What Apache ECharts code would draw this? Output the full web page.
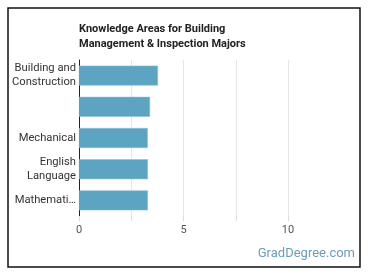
<!DOCTYPE html>
<html><head><meta charset="utf-8">
<script src="https://cdn.jsdelivr.net/npm/echarts@6/dist/echarts.min.js"></script>
<style>html,body{margin:0;padding:0;background:#fff}#c{width:370px;height:278px}</style>
</head><body><div id="c"></div>
<script>
const categories = ['Building and\nConstruction', '', 'Mechanical', 'English\nLanguage', 'Mathemati…'];
const values = [3.78, 3.40, 3.29, 3.30, 3.30];
const xTicks = [0, 5, 10];
const titleText = 'Knowledge Areas for Building\nManagement & Inspection Majors';

const chart = echarts.init(document.getElementById('c'));
chart.setOption({
  animation: false,
  title: {
    text: titleText, left: 79, top: 22, padding: 0,
    textStyle: {fontFamily: 'Roboto', fontSize: 11, fontWeight: 'bold', color: '#222', lineHeight: 15}
  },
  grid: {left: 79, right: 82, top: 60, bottom: 62, outerBoundsMode: 'none', containLabel: false},
  xAxis: {
    type: 'value', min: 0, max: 10, interval: 2.5,
    axisLine: {show: false},
    axisTick: {show: true, length: 5, lineStyle: {color: '#ddd'}},
    splitLine: {show: true, lineStyle: {color: '#e6e6e6'}},
    axisLabel: {
      margin: 9, color: '#555', fontFamily: 'Roboto', fontSize: 11,
      formatter: v => xTicks.includes(v) ? String(v) : ''
    }
  },
  yAxis: {
    type: 'category', data: categories, inverse: true,
    axisLine: {show: true, lineStyle: {color: '#222', width: 1}},
    axisTick: {show: false},
    axisLabel: {margin: 3, color: '#333', fontFamily: 'Roboto', fontSize: 11.2, lineHeight: 14}
  },
  series: [{
    type: 'bar', data: values, barWidth: 20,
    itemStyle: {color: '#5ca4c2', borderColor: '#8cc0d6', borderWidth: 0.6}
  }],
  graphic: [
    {type: 'rect', shape: {x: 8, y: 8, width: 352, height: 259}, style: {fill: 'none', stroke: '#111', lineWidth: 1.5}, silent: true},
    {type: 'text', right: 15, top: 247, style: {text: 'GradDegree.com', fill: '#6b9cb8', font: '13px Roboto'}}
  ]
});
</script></body></html>
